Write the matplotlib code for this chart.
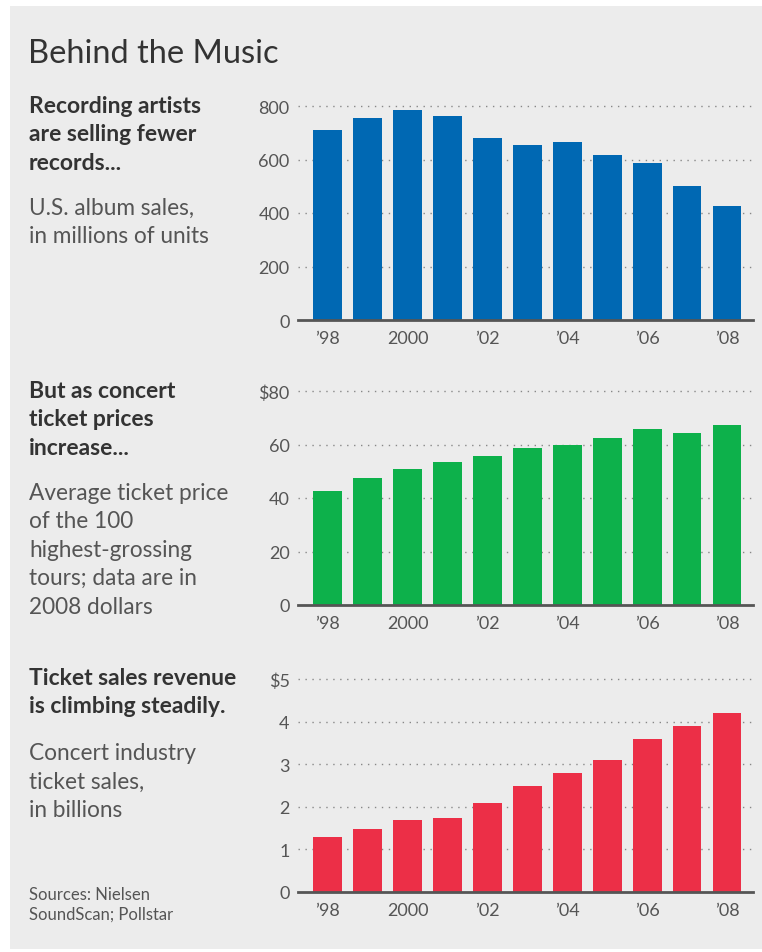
import matplotlib
matplotlib.use("Agg")
import matplotlib.pyplot as plt
from matplotlib.patches import Rectangle

# Data
years = [1998, 1999, 2000, 2001, 2002, 2003, 2004, 2005, 2006, 2007, 2008]
album_sales = [710, 754, 784, 762, 680, 655, 666, 617, 587, 500, 427]
ticket_price = [42.6, 47.6, 50.9, 53.3, 55.7, 58.8, 59.7, 62.5, 65.7, 64.4, 67.2]
ticket_revenue = [1.28, 1.48, 1.69, 1.74, 2.09, 2.49, 2.80, 3.09, 3.59, 3.90, 4.20]

xtick_labels = ["\u201998", "2000", "\u201902", "\u201904", "\u201906", "\u201908"]
yticks_sales = [0, 200, 400, 600, 800]
ylabels_sales = ["0", "200", "400", "600", "800"]
yticks_price = [0, 20, 40, 60, 80]
ylabels_price = ["0", "20", "40", "60", "$80"]
yticks_rev = [0, 1, 2, 3, 4, 5]
ylabels_rev = ["0", "1", "2", "3", "4", "$5"]

BLUE = "#0068b3"
GREEN = "#0db14b"
RED = "#ec2f47"
BG = "#ececec"
DARK = "#333333"
GRAY = "#555555"

plt.rcParams['font.family'] = ['Lato', 'DejaVu Sans']

W, H = 762, 953
fig = plt.figure(figsize=(W / 100, H / 100), dpi=100, facecolor="white")

# gray panel behind everything
fig.patches.append(Rectangle((10 / W, 1 - 950 / H), 1 - 10 / W, (950 - 7) / H,
                             transform=fig.transFigure, facecolor=BG,
                             edgecolor="none", zorder=-10))


def ftext(x, y, s, **kw):
    # x, y in pixels from top-left
    fig.text(x / W, 1 - y / H, s, va="baseline", ha="left", **kw)


def bar_panel(top_px, bottom_px, values, color, yticks, ylabels):
    left_px, right_px = 298, 753
    ax = fig.add_axes([left_px / W, 1 - bottom_px / H,
                       (right_px - left_px) / W, (bottom_px - top_px) / H])
    ax.set_facecolor("none")
    x = list(range(len(values)))
    ax.bar(x, values, width=0.72, color=color, zorder=3)
    ax.set_xlim(-0.74, 10.65)
    ax.set_ylim(0, yticks[-1])
    ax.hlines(yticks[1:], -0.74, 10.65, colors="#888888", linestyles=(0, (1, 4)),
              linewidth=1, zorder=1, clip_on=False)
    ax.set_yticks(yticks)
    ax.set_yticklabels(ylabels)
    ax.set_xticks(x[::2])
    ax.set_xticklabels(xtick_labels)
    for s in ["top", "right", "left"]:
        ax.spines[s].set_visible(False)
    ax.spines["bottom"].set_color(GRAY)
    ax.spines["bottom"].set_linewidth(2)
    ax.spines["bottom"].set_zorder(4)
    ax.tick_params(axis="both", length=0, labelsize=13, labelcolor=GRAY)
    ax.tick_params(axis="y", pad=6)
    ax.tick_params(axis="x", pad=7)
    return ax


bar_panel(107, 321, album_sales, BLUE, yticks_sales, ylabels_sales)
bar_panel(392, 606, ticket_price, GREEN, yticks_price, ylabels_price)
bar_panel(680, 893, ticket_revenue, RED, yticks_rev, ylabels_rev)

# text
ftext(28, 63, "Behind the Music", fontsize=23.5, color=DARK)

bold = dict(fontsize=16.5, fontweight="bold", color=DARK)
reg = dict(fontsize=16.3, color=GRAY)

for i, s in enumerate(["Recording artists", "are selling fewer", "records..."]):
    ftext(29, 113 + i * 28.4, s, **bold)
for i, s in enumerate(["U.S. album sales,", "in millions of units"]):
    ftext(29, 215 + i * 28.4, s, **reg)

for i, s in enumerate(["But as concert", "ticket prices", "increase..."]):
    ftext(29, 398 + i * 28.4, s, **bold)
for i, s in enumerate(["Average ticket price", "of the 100", "highest-grossing",
                       "tours; data are in", "2008 dollars"]):
    ftext(29, 500 + i * 28.4, s, **reg)

for i, s in enumerate(["Ticket sales revenue", "is climbing steadily."]):
    ftext(29, 685 + i * 28.4, s, **bold)
for i, s in enumerate(["Concert industry", "ticket sales,", "in billions"]):
    ftext(29, 760 + i * 28.4, s, **reg)

for i, s in enumerate(["Sources: Nielsen", "SoundScan; Pollstar"]):
    ftext(29, 900 + i * 20, s, fontsize=12, color=GRAY)

fig.savefig("out.png", dpi=100, facecolor=fig.get_facecolor())
